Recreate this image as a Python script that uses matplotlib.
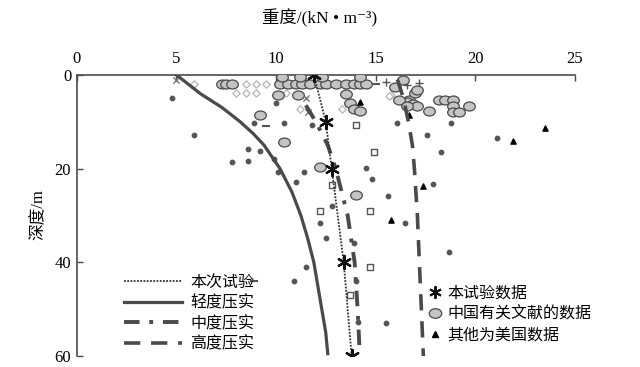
import matplotlib
matplotlib.use("Agg")
import matplotlib.pyplot as plt
import numpy as np
from matplotlib.path import Path
from matplotlib.lines import Line2D

plt.rcParams['font.family'] = ['Liberation Serif', 'Noto Sans CJK SC', 'DejaVu Sans']

# compaction curves: (unit weight kN/m3, depth m)
light_depth = [0, 2, 4, 7, 10, 12.5, 15, 20, 25, 30, 35, 40, 45, 50, 55, 59.5]
light_gamma = [5.0, 5.6, 6.2, 7.3, 8.2, 8.85, 9.4, 10.2, 10.8, 11.25, 11.6, 11.9, 12.1, 12.3, 12.5, 12.6]
medium_depth = [6.5, 10, 15, 20, 30, 40, 50, 59]
medium_gamma = [11.5, 12.0, 12.6, 13.0, 13.6, 13.95, 14.1, 14.2]
heavy_depth = [1, 5, 10, 15, 20, 30, 40, 50, 60]
heavy_gamma = [16.1, 16.4, 16.65, 16.85, 16.95, 17.1, 17.2, 17.3, 17.4]
test_depth = [0, 10, 20, 40, 60]
test_gamma = [11.9, 12.5, 12.8, 13.4, 13.8]

# data points
china_x = [7.3, 7.5, 7.8, 10.2, 10.6, 11.0, 11.3, 11.7, 12.2, 12.5, 13.0, 13.5, 13.9, 14.2, 14.5,
           10.3, 11.2, 12.3, 14.2, 10.1, 11.1, 13.5, 13.7, 13.9, 14.2, 9.2,
           16.0, 16.4, 16.7, 17.0, 17.1, 16.6, 16.9, 16.2, 17.1, 16.6,
           18.2, 18.5, 18.9, 18.9, 18.9, 19.2, 19.7, 17.7,
           10.4, 12.2, 14.0]
china_y = [1.9, 1.9, 1.9, 2.0, 2.0, 2.0, 2.0, 2.0, 2.0, 2.0, 2.0, 2.0, 2.0, 2.0, 2.0,
           0.5, 0.5, 0.5, 0.5, 4.2, 4.4, 4.0, 6.0, 7.2, 7.8, 8.5,
           2.5, 1.0, 5.3, 3.8, 3.2, 5.7, 6.3, 5.3, 6.7, 6.7,
           5.3, 5.3, 5.3, 6.7, 8.0, 8.0, 6.7, 7.8,
           14.4, 19.7, 25.6]
diamond_x = [5.9, 8.5, 9.0, 9.5, 8.0, 8.5, 9.0, 11.2, 13.3, 15.8, 15.7, 10.5]
diamond_y = [1.9, 1.9, 1.9, 1.9, 3.9, 3.9, 3.9, 7.2, 7.2, 4.2, 4.6, 3.9]
dot_x = [4.8, 5.9, 8.6, 7.8, 8.6, 9.2, 10.1, 11.4, 11.0, 10.4, 8.9, 11.8, 14.5, 14.8, 15.6,
         12.2, 12.5, 13.9, 16.5, 11.5, 10.9, 14.0, 15.5, 14.1, 18.7, 10.0,
         16.1, 18.8, 17.6, 21.1, 18.3, 17.9, 9.9, 12.8]
dot_y = [5.0, 12.9, 15.9, 18.6, 18.4, 16.3, 20.7, 20.7, 22.8, 10.2, 10.2, 10.6, 19.9, 22.2, 25.8,
         31.7, 34.9, 35.8, 31.7, 41.0, 44.0, 44.0, 53.0, 52.7, 37.7, 6.0,
         10.2, 10.2, 12.9, 13.5, 16.5, 23.3, 18.0, 28.0]
square_x = [14.0, 14.9, 12.2, 14.7, 14.7, 13.7, 12.8]
square_y = [10.6, 16.5, 29.0, 29.0, 41.0, 47.0, 23.5]
usa_x = [14.2, 16.7, 23.5, 21.9, 17.4, 15.8]
usa_y = [5.7, 8.5, 11.4, 14.2, 23.7, 31.0]
plus_x = [16.6, 17.2, 15.5, 11.5]
plus_y = [2.1, 1.7, 1.5, 1.5]
dash_x = [11.0, 11.6, 12.3, 13.2, 13.6, 14.6, 15.0, 9.5, 8.9]
dash_y = [2.0, 2.0, 2.0, 2.0, 2.0, 2.0, 2.0, 11.0, 44.0]
cross_x = [5.0, 11.5, 11.6]
cross_y = [1.2, 5.0, 8.0]

circ = Path.unit_circle()
ellipse = Path(circ.vertices * np.array([1.3, 1.0]), circ.codes)
asterisk = (6, 2, 0)

fig = plt.figure(figsize=(6.4, 3.67), dpi=100)
ax = fig.add_axes([0.12, 0.03, 0.778, 0.766])

gray = '#4a4a4a'
ax.scatter(diamond_x, diamond_y, marker='D', s=14, facecolor='white', edgecolor='#b5b5b5', lw=0.9, zorder=2)
ax.scatter(dot_x, dot_y, marker='o', s=10, color='#555555', zorder=2)
ax.scatter(square_x, square_y, marker='s', s=14, facecolor='white', edgecolor='#555555', lw=1, zorder=2)
ax.scatter(plus_x, plus_y, marker='+', s=30, color='#555555', lw=1, zorder=2)
ax.scatter(dash_x, dash_y, marker='_', s=30, color='#555555', lw=1.5, zorder=2)
ax.scatter(cross_x, cross_y, marker='x', s=20, color='#777777', lw=1, zorder=2)
ax.scatter(china_x, china_y, marker=ellipse, s=70, facecolor='#c4c4c4', edgecolor='#4a4a4a', lw=0.9, zorder=3)
ax.scatter(usa_x, usa_y, marker='^', s=14, color='black', zorder=4)

l1, = ax.plot(test_gamma, test_depth, color='#333333', lw=1.3, ls=(0, (1, 0.8)), zorder=5)
ax.scatter(test_gamma, test_depth, marker=asterisk, s=90, color='#111111', lw=1.6, zorder=6)
l2, = ax.plot(light_gamma, light_depth, color=gray, lw=2.3, zorder=4)
l3, = ax.plot(medium_gamma, medium_depth, color=gray, lw=2.8, dashes=(4, 2.5, 1, 2.5), zorder=4)
l4, = ax.plot(heavy_gamma, heavy_depth, color=gray, lw=2.6, dashes=(4.5, 3), zorder=4)

ax.set_xlim(0, 25)
ax.set_ylim(60, 0)
ax.set_xticks([0, 5, 10, 15, 20, 25])
ax.set_yticks([0, 20, 40, 60])
ax.xaxis.tick_top()
ax.tick_params(direction='in', length=4, width=1, color=gray, labelsize=12, pad=4)
ax.tick_params(axis='x', pad=6)
for s in ['bottom', 'right']:
    ax.spines[s].set_visible(False)
for s in ['top', 'left']:
    ax.spines[s].set_color(gray)
    ax.spines[s].set_linewidth(1.2)

fig.text(0.5, 0.95, '重度/(kN • m⁻³)', ha='center', va='center', fontsize=12.5)
fig.text(0.06, 0.415, '深度/m', ha='center', va='center', rotation=90, fontsize=12)

leg1 = ax.legend([l1, l2, l3, l4], ['本次试验', '轻度压实', '中度压实', '高度压实'],
                 loc='upper left', bbox_to_anchor=(124 / 640, 1 - 275 / 367),
                 bbox_transform=fig.transFigure, frameon=False, fontsize=11.5,
                 handlelength=3.6, handletextpad=0.55, labelspacing=0.28,
                 borderpad=0, borderaxespad=0)
ax.add_artist(leg1)
h1 = Line2D([], [], ls='none', marker=asterisk, ms=9, mew=1.4, color='#111111')
h2 = Line2D([], [], ls='none', marker=ellipse, ms=9, mfc='#c4c4c4', mec='#4a4a4a', mew=0.9)
h3 = Line2D([], [], ls='none', marker='^', ms=4, color='black')
ax.legend([h1, h2, h3], ['本试验数据', '中国有关文献的数据', '其他为美国数据'],
          loc='upper left', bbox_to_anchor=(428 / 640, 1 - 286 / 367),
          bbox_transform=fig.transFigure, frameon=False, fontsize=11.5,
          handlelength=0.9, handletextpad=0.3, labelspacing=0.3,
          borderpad=0, borderaxespad=0)

fig.savefig('out.png', dpi=100)
